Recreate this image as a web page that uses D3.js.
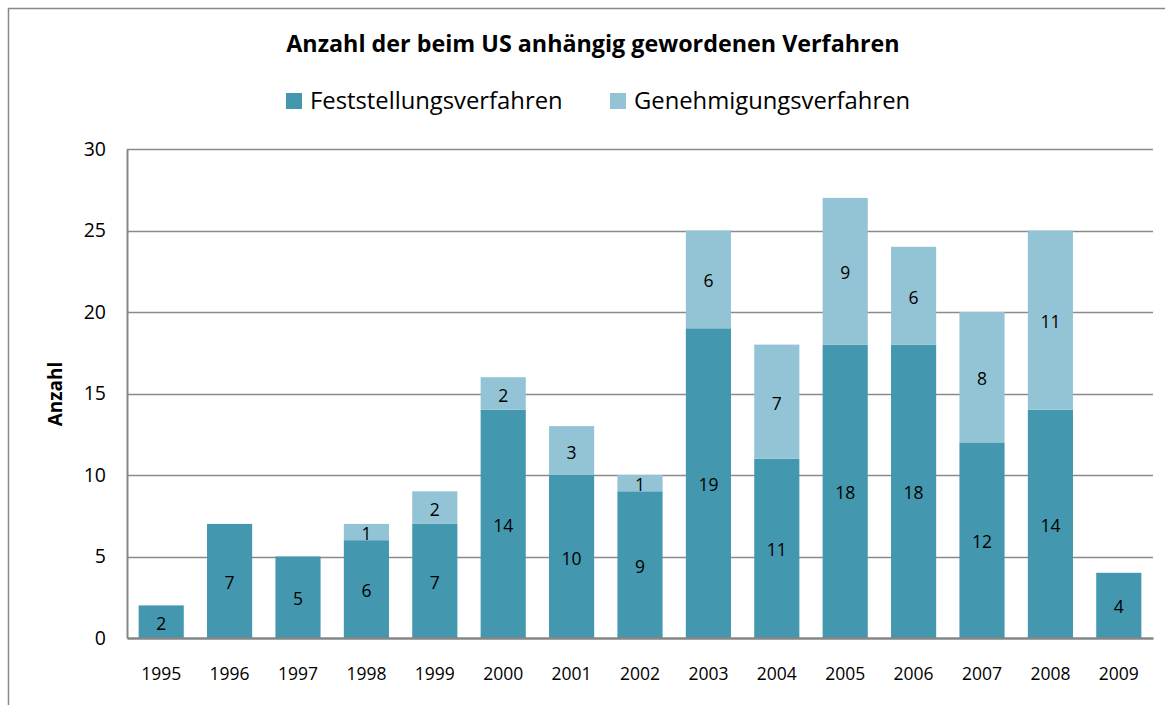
<!DOCTYPE html>
<html>
<head>
<meta charset="utf-8">
<script src="https://cdn.jsdelivr.net/npm/d3@7"></script>
<style>
  body { margin: 0; background: #fff; }
  text { font-family: "Open Sans", "Noto Sans", sans-serif; fill: #000; }
</style>
</head>
<body>
<div id="chart"></div>
<script>
// Data
var years = ["1995", "1996", "1997", "1998", "1999", "2000", "2001", "2002",
             "2003", "2004", "2005", "2006", "2007", "2008", "2009"];
var feststellung = [2, 7, 5, 6, 7, 14, 10, 9, 19, 11, 18, 18, 12, 14, 4];
var genehmigung = [0, 0, 0, 1, 2, 2, 3, 1, 6, 7, 9, 6, 8, 11, 0];
var seriesNames = ["Feststellungsverfahren", "Genehmigungsverfahren"];
var yTicks = [0, 5, 10, 15, 20, 25, 30];

var width = 1165,
    height = 705;
var colors = ["#4397ae", "#93c4d5"];

var svg = d3.select("#chart")
            .append("svg")
              .attr("width", width)
              .attr("height", height);

// outer chart border
svg.append("rect")
   .attr("x", 8.5)
   .attr("y", 8.5)
   .attr("width", width)
   .attr("height", height)
   .attr("fill", "none")
   .attr("stroke", "#898989")
   .attr("stroke-width", 1.5);

var x = d3.scaleBand()
          .domain(years)
          .range([127, 1153])
          .paddingInner(0.34)
          .paddingOuter(0.17);

var y = d3.scaleLinear()
          .domain([0, 30])
          .range([638, 149]);

// Gridlines
svg.append("g")
   .selectAll("line")
   .data(yTicks.filter(function(d) { return d > 0; }))
   .enter()
   .append("line")
     .attr("x1", 127)
     .attr("x2", 1153)
     .attr("y1", function(d) { return Math.round(y(d)) + 0.5; })
     .attr("y2", function(d) { return Math.round(y(d)) + 0.5; })
     .attr("stroke", "#8a8a8a")
     .attr("stroke-width", 1.5);

// Stack the data
var rows = years.map(function(yr, i) {
  return { year: yr, Feststellungsverfahren: feststellung[i], Genehmigungsverfahren: genehmigung[i] };
});
var stack = d3.stack().keys(seriesNames)(rows);

var layers = svg.selectAll(".layer")
                .data(stack)
                .enter()
                .append("g")
                  .attr("class", "layer")
                  .attr("fill", function(d, i) { return colors[i]; });

layers.selectAll("rect")
      .data(function(d) { return d.filter(function(s) { return s[1] - s[0] > 0; }); })
      .enter()
      .append("rect")
        .attr("x", function(d) { return x(d.data.year); })
        .attr("y", function(d) { return y(d[1]); })
        .attr("width", x.bandwidth())
        .attr("height", function(d) { return y(d[0]) - y(d[1]); });

// Value labels
layers.selectAll("text")
      .data(function(d) { return d.filter(function(s) { return s[1] - s[0] > 0; }); })
      .enter()
      .append("text")
        .attr("x", function(d) { return x(d.data.year) + x.bandwidth() / 2; })
        .attr("y", function(d) { return (y(d[0]) + y(d[1])) / 2 + 8; })
        .attr("text-anchor", "middle")
        .style("font-size", "17.5px")
        .text(function(d) { return d[1] - d[0]; });

// y axis
var yAxis = svg.append("g")
               .attr("transform", "translate(127,0)")
               .call(d3.axisLeft(y).tickValues(yTicks).tickSize(0).tickPadding(21));
yAxis.select(".domain").attr("stroke", "#868686").attr("stroke-width", 2);
yAxis.selectAll("text").style("font-size", "19.5px").attr("fill", "#000");

// x axis
var xAxis = svg.append("g")
               .attr("transform", "translate(0,638)")
               .call(d3.axisBottom(x).tickSize(0));
xAxis.select(".domain").attr("stroke", "#868686").attr("stroke-width", 2.5);
xAxis.selectAll("text")
     .attr("y", 42)
     .attr("dy", null)
     .style("font-size", "17.5px")
     .attr("fill", "#000");

// y axis title
svg.append("text")
   .attr("transform", "translate(62,394) rotate(-90)")
   .attr("text-anchor", "middle")
   .style("font-size", "19px")
   .style("font-weight", "bold")
   .text("Anzahl");

// Title
svg.append("text")
   .attr("x", 593)
   .attr("y", 52)
   .attr("text-anchor", "middle")
   .style("font-size", "23.3px")
   .style("font-weight", "bold")
   .text("Anzahl der beim US anhängig gewordenen Verfahren");

// Legend
var legendX = [286, 610];
var legend = svg.selectAll(".legend")
                .data(seriesNames)
                .enter()
                .append("g")
                  .attr("class", "legend")
                  .attr("transform", function(d, i) { return "translate(" + legendX[i] + ",93)"; });

legend.append("rect")
      .attr("width", 16)
      .attr("height", 16)
      .attr("fill", function(d, i) { return colors[i]; });

legend.append("text")
      .attr("x", 24)
      .attr("y", 16)
      .style("font-size", "23.8px")
      .text(function(d) { return d; });
</script>
</body>
</html>
